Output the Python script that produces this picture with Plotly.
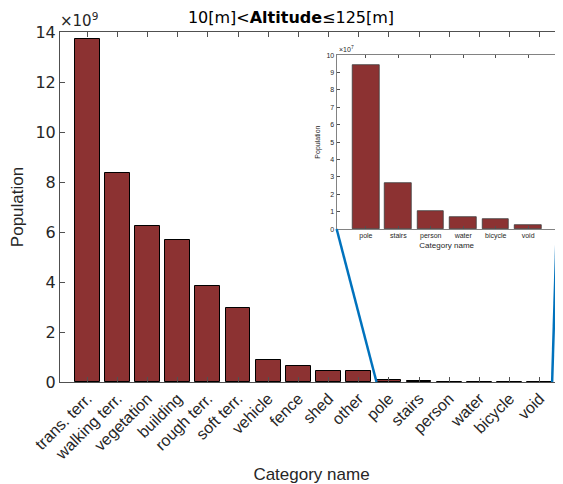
import plotly.graph_objects as go

# ---- data ----
categories = ["trans. terr.", "walking terr.", "vegetation", "building", "rough terr.",
              "soft terr.", "vehicle", "fence", "shed", "other", "pole", "stairs",
              "person", "water", "bicycle", "void"]
population = [13.74e9, 8.35e9, 6.26e9, 5.70e9, 3.83e9, 2.95e9, 0.90e9, 0.63e9,
              0.44e9, 0.44e9, 0.0945e9, 0.0263e9, 0.0105e9, 0.007e9, 0.0055e9, 0.002e9]

inset_categories = ["pole", "stairs", "person", "water", "bicycle", "void"]
inset_population = [9.45e7, 2.63e7, 1.05e7, 0.70e7, 0.55e7, 0.20e7]

main_ticks = [0, 2, 4, 6, 8, 10, 12, 14]
inset_ticks = [0, 1, 2, 3, 4, 5, 6, 7, 8, 9, 10]

BAR = "rgb(140,50,50)"
AX = "rgb(80,80,80)"
TXT = "rgb(38,38,38)"
FONT = "Liberation Sans"
DV = "DejaVu Sans"

# page body has an 8px margin, so the figure is 8px smaller than the window
OFF = 8
W, H = 563 - OFF, 484 - OFF
ML, MR, MT = 60 - OFF, 0, 32 - OFF
MB = H - (382 - OFF)
xr = [-0.9, 15.77]
x2r = [-0.9, 5.88]
inset_dom_x = [0.550, 0.9875]
inset_dom_y = [0.437, 0.934]

fig = go.Figure()
fig.add_trace(go.Bar(x=categories, y=population, width=0.82,
                     marker=dict(color=BAR, line=dict(color="black", width=1)),
                     xaxis="x", yaxis="y", showlegend=False))
fig.add_trace(go.Bar(x=inset_categories, y=inset_population, width=0.82,
                     marker=dict(color=BAR, line=dict(color="rgb(60,60,60)", width=0.8)),
                     xaxis="x2", yaxis="y2", showlegend=False))

fig.update_layout(
    width=W, height=H,
    margin=dict(l=ML, r=MR, t=MT, b=MB, pad=0, autoexpand=False),
    paper_bgcolor="white", plot_bgcolor="white",
    font=dict(family=FONT, color=TXT),
    title=dict(text="10[m]<<b>Altitude</b>≤125[m]", x=(291 - OFF) / W, xanchor="center",
               y=1 - (17 - OFF) / H, yanchor="middle",
               font=dict(size=16, color="black", family=DV)),
    bargap=0,
    xaxis=dict(domain=[0, 1], range=xr, type="category", tickangle=-45, automargin=False,
               showline=True, mirror="ticks", linecolor=AX, linewidth=1,
               ticks="inside", ticklen=5, tickcolor=AX,
               tickfont=dict(size=16, color=TXT), showgrid=False,
               title=dict(text="Category name", font=dict(size=17, color=TXT), standoff=9)),
    yaxis=dict(domain=[0, 1], range=[0, 14e9], tickvals=[t * 1e9 for t in main_ticks],
               ticktext=[str(t) for t in main_ticks], automargin=False,
               showline=True, mirror=False, linecolor=AX, linewidth=1,
               ticks="inside", ticklen=5, tickcolor=AX, showgrid=False, zeroline=False,
               tickfont=dict(size=16, color=TXT, family=DV),
               title=dict(text="Population", font=dict(size=17, color=TXT), standoff=12)),
    xaxis2=dict(domain=inset_dom_x, anchor="y2", range=x2r, type="category", automargin=False,
                showline=True, mirror="ticks", linecolor="rgb(130,130,130)", linewidth=1,
                ticks="inside", ticklen=3, tickcolor=AX, showgrid=False,
                tickfont=dict(size=7, color=TXT),
                title=dict(text="Category name", font=dict(size=8, color=TXT), standoff=2)),
    yaxis2=dict(domain=inset_dom_y, anchor="x2", range=[0, 10e7], automargin=False,
                tickvals=[t * 1e7 for t in inset_ticks], ticktext=[str(t) for t in inset_ticks],
                showline=True, mirror=True, linecolor="rgb(130,130,130)", linewidth=1,
                ticks="inside", ticklen=3, tickcolor=AX, showgrid=False, zeroline=False,
                tickfont=dict(size=7, color=TXT),
                title=dict(text="Population", font=dict(size=7, color=TXT), standoff=4)),
)

# multiplier labels
fig.add_annotation(text="×10<sup>9</sup>", xref="paper", yref="paper", x=-0.004, y=1.0,
                   xanchor="left", yanchor="bottom", showarrow=False,
                   font=dict(size=15, color=TXT, family=DV))
fig.add_annotation(text="×10<sup>7</sup>", xref="paper", yref="paper", x=inset_dom_x[0],
                   y=inset_dom_y[1], xanchor="left", yanchor="bottom", showarrow=False,
                   font=dict(size=7, color=TXT))

# connector lines from zoomed region to inset
def xp(idx):
    return (idx - xr[0]) / (xr[1] - xr[0])

i0 = categories.index(inset_categories[0]) - 0.41
i1 = categories.index(inset_categories[-1]) + 0.41
BLUE = "rgb(0,114,189)"
fig.add_shape(type="line", xref="paper", yref="paper", x0=xp(i0), y0=0,
              x1=inset_dom_x[0], y1=inset_dom_y[0], line=dict(color=BLUE, width=2.5))
fig.add_shape(type="line", xref="paper", yref="paper", x0=xp(i1), y0=0,
              x1=inset_dom_x[1], y1=inset_dom_y[0], line=dict(color=BLUE, width=2.5))

fig.write_html("out.html")
